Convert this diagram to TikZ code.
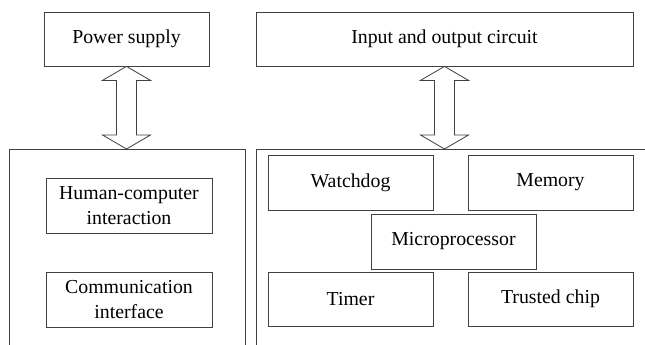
\documentclass[tikz,border=0pt]{standalone}
\usepackage{fontspec}
\newfontfamily\tnr{LiberationSerif}[Extension=.ttf,UprightFont=*-Regular,BoldFont=*-Bold]
\usetikzlibrary{calc}
\begin{document}
\begin{tikzpicture}[x=1pt,y=-1pt,
  ln/.style={draw=black!75,line width=0.8pt},
  blk/.style={ln,rectangle,inner sep=0pt,align=center,
    font=\tnr\fontsize{19.8}{25}\selectfont},
  dbl/.style={ln,fill=white,line join=miter}]
\useasboundingbox (0,0) rectangle (645,345);
% top boxes
\node[blk,minimum width=165pt,minimum height=54pt] (power) at (126.5,39) {Power supply};
\node[blk,minimum width=377pt,minimum height=54pt] (io) at (444.5,39) {Input and output circuit};
% frames
\coordinate (lftop) at (126.5,149);
\coordinate (rftop) at (444.5,149);
\draw[ln] (9,345) -- (9,149) -- (245,149) -- (245,345);
\draw[ln] (256,345) -- (256,149) -- (645,149);
% left inner boxes
\node[blk,minimum width=166pt,minimum height=55pt] (hci) at (129,205.5) {Human-computer\\interaction};
\node[blk,minimum width=166pt,minimum height=55pt] (comm) at (129,299.5) {Communication\\interface};
% right inner boxes
\node[blk,minimum width=165pt,minimum height=55pt] (wd) at (350.5,182.5) {Watchdog};
\node[blk,minimum width=165pt,minimum height=55pt] (mem) at (550.5,182.5) {Memory};
\node[blk,minimum width=165pt,minimum height=55pt] (mp) at (453.5,241.5) {Microprocessor};
\node[blk,minimum width=165pt,minimum height=54pt] (tim) at (350.5,299) {Timer};
\node[blk,minimum width=165pt,minimum height=54pt] (tc) at (550.5,299) {Trusted chip};
% double arrows
\foreach \a/\b in {power/lftop,io/rftop}{
  \draw[dbl] let \p1=(\a.south), \p2=(\b) in
    (\x1,\y1) -- ({\x1+24pt},{\y1-14pt}) -- ({\x1+10pt},{\y1-14pt})
    -- ({\x1+10pt},{\y2+14pt}) -- ({\x1+24pt},{\y2+14pt}) -- (\x1,\y2)
    -- ({\x1-24pt},{\y2+14pt}) -- ({\x1-10pt},{\y2+14pt})
    -- ({\x1-10pt},{\y1-14pt}) -- ({\x1-24pt},{\y1-14pt}) -- cycle;
}
\end{tikzpicture}
\end{document}
